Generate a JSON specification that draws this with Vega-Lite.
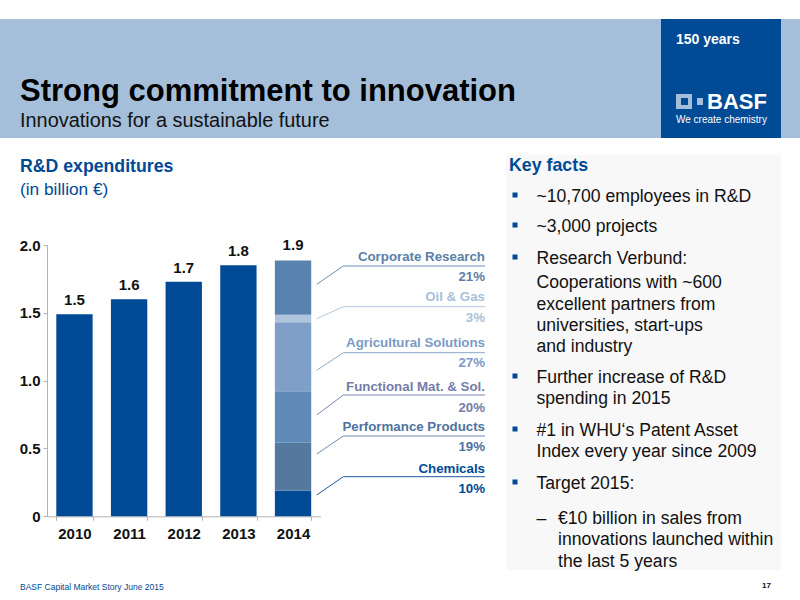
{
  "$schema": "https://vega.github.io/schema/vega-lite/v6.json",
  "width": 800,
  "height": 600,
  "autosize": "none",
  "padding": 0,
  "background": "#ffffff",
  "title": {
    "text": "Strong commitment to innovation",
    "subtitle": "Innovations for a sustainable future",
    "anchor": "start",
    "frame": "group",
    "dx": 20,
    "dy": 135.5,
    "fontSize": 31,
    "fontWeight": "bold",
    "color": "#000000",
    "subtitleFontSize": 19.9,
    "subtitleColor": "#111111",
    "subtitlePadding": 3,
    "font": "Liberation Sans",
    "subtitleFont": "Liberation Sans"
  },
  "datasets": {
    "spend": [
      {"year": "2010", "segment": "Total", "rank": 0, "value": 1.49},
      {"year": "2011", "segment": "Total", "rank": 0, "value": 1.6},
      {"year": "2012", "segment": "Total", "rank": 0, "value": 1.73},
      {"year": "2013", "segment": "Total", "rank": 0, "value": 1.85},
      {"year": "2014", "segment": "Chemicals", "rank": 1, "value": 0.189},
      {"year": "2014", "segment": "Performance Products", "rank": 2, "value": 0.354},
      {"year": "2014", "segment": "Functional Mat. & Sol.", "rank": 3, "value": 0.378},
      {"year": "2014", "segment": "Agricultural Solutions", "rank": 4, "value": 0.509},
      {"year": "2014", "segment": "Oil & Gas", "rank": 5, "value": 0.056},
      {"year": "2014", "segment": "Corporate Research", "rank": 6, "value": 0.399}
    ],
    "totals": [
      {"year": "2010", "total": 1.49, "reported": "1.5"},
      {"year": "2011", "total": 1.6, "reported": "1.6"},
      {"year": "2012", "total": 1.73, "reported": "1.7"},
      {"year": "2013", "total": 1.85, "reported": "1.8"},
      {"year": "2014", "total": 1.9, "reported": "1.9"}
    ],
    "callout_text": [
      {"row": 1, "segment": "Corporate Research", "text": "Corporate Research"},
      {"row": 2, "segment": "Corporate Research", "text": "21%"},
      {"row": 3, "segment": "Oil & Gas", "text": "Oil & Gas"},
      {"row": 4, "segment": "Oil & Gas", "text": "3%"},
      {"row": 5, "segment": "Agricultural Solutions", "text": "Agricultural Solutions"},
      {"row": 6, "segment": "Agricultural Solutions", "text": "27%"},
      {"row": 7, "segment": "Functional Mat. & Sol.", "text": "Functional Mat. & Sol."},
      {"row": 8, "segment": "Functional Mat. & Sol.", "text": "20%"},
      {"row": 9, "segment": "Performance Products", "text": "Performance Products"},
      {"row": 10, "segment": "Performance Products", "text": "19%"},
      {"row": 11, "segment": "Chemicals", "text": "Chemicals"},
      {"row": 12, "segment": "Chemicals", "text": "10%"}
    ],
    "leaders": [
      {"segment": "Corporate Research", "stop": 1, "level": 2},
      {"segment": "Corporate Research", "stop": 2, "level": 1},
      {"segment": "Corporate Research", "stop": 3, "level": 1},
      {"segment": "Oil & Gas", "stop": 1, "level": 4},
      {"segment": "Oil & Gas", "stop": 2, "level": 3},
      {"segment": "Oil & Gas", "stop": 3, "level": 3},
      {"segment": "Agricultural Solutions", "stop": 1, "level": 6},
      {"segment": "Agricultural Solutions", "stop": 2, "level": 5},
      {"segment": "Agricultural Solutions", "stop": 3, "level": 5},
      {"segment": "Functional Mat. & Sol.", "stop": 1, "level": 8},
      {"segment": "Functional Mat. & Sol.", "stop": 2, "level": 7},
      {"segment": "Functional Mat. & Sol.", "stop": 3, "level": 7},
      {"segment": "Performance Products", "stop": 1, "level": 10},
      {"segment": "Performance Products", "stop": 2, "level": 9},
      {"segment": "Performance Products", "stop": 3, "level": 9},
      {"segment": "Chemicals", "stop": 1, "level": 12},
      {"segment": "Chemicals", "stop": 2, "level": 11},
      {"segment": "Chemicals", "stop": 3, "level": 11}
    ],
    "facts": [
      {"line": 1, "col": "bullet", "text": ""},
      {"line": 1, "col": "text", "text": "~10,700 employees in R&D"},
      {"line": 2, "col": "bullet", "text": ""},
      {"line": 2, "col": "text", "text": "~3,000 projects"},
      {"line": 3, "col": "bullet", "text": ""},
      {"line": 3, "col": "text", "text": "Research Verbund:"},
      {"line": 4, "col": "text", "text": "Cooperations with ~600"},
      {"line": 5, "col": "text", "text": "excellent partners from"},
      {"line": 6, "col": "text", "text": "universities, start-ups"},
      {"line": 7, "col": "text", "text": "and industry"},
      {"line": 8, "col": "bullet", "text": ""},
      {"line": 8, "col": "text", "text": "Further increase of R&D"},
      {"line": 9, "col": "text", "text": "spending in 2015"},
      {"line": 10, "col": "bullet", "text": ""},
      {"line": 10, "col": "text", "text": "#1 in WHU‘s Patent Asset"},
      {"line": 11, "col": "text", "text": "Index every year since 2009"},
      {"line": 12, "col": "bullet", "text": ""},
      {"line": 12, "col": "text", "text": "Target 2015:"},
      {"line": 13, "col": "text", "text": "–"},
      {"line": 13, "col": "subtext", "text": "€10 billion in sales from"},
      {"line": 14, "col": "subtext", "text": "innovations launched within"},
      {"line": 15, "col": "subtext", "text": "the last 5 years"}
    ]
  },
  "layer": [
    {
      "data": {"values": [{"part": "header band"}]},
      "mark": {"type": "rect", "x": 0, "x2": 800, "y": 19, "y2": 138, "color": "#a5bfda"}
    },
    {
      "data": {"values": [{"part": "logo box"}]},
      "mark": {"type": "rect", "x": 661, "x2": 781, "y": 19, "y2": 138, "color": "#004a96"}
    },
    {
      "data": {"values": [{"part": "key facts panel"}]},
      "mark": {"type": "rect", "x": 506, "x2": 781, "y": 155, "y2": 570, "color": "#f8f8f8"}
    },
    {
      "data": {"values": [{"part": "logo outer"}]},
      "mark": {"type": "rect", "x": 676, "x2": 692, "y": 94, "y2": 109, "color": "#a5bfda"}
    },
    {
      "data": {"values": [{"part": "logo inner"}]},
      "mark": {"type": "rect", "x": 681, "x2": 688, "y": 98, "y2": 105, "color": "#004a96"}
    },
    {
      "data": {"values": [{"part": "logo dot"}]},
      "mark": {"type": "rect", "x": 697, "x2": 703, "y": 98, "y2": 105, "color": "#a5bfda"}
    },
    {
      "data": {"values": [{"text": "150 years"}]},
      "mark": {"type": "text", "x": 676, "y": 40, "align": "left", "baseline": "middle", "font": "Liberation Sans", "fontSize": 14, "fontWeight": "bold", "color": "#ffffff"},
      "encoding": {"text": {"field": "text"}}
    },
    {
      "data": {"values": [{"text": "BASF"}]},
      "mark": {"type": "text", "x": 707, "y": 101.5, "align": "left", "baseline": "middle", "font": "Liberation Sans", "fontSize": 22, "fontWeight": "bold", "color": "#ffffff"},
      "encoding": {"text": {"field": "text"}}
    },
    {
      "data": {"values": [{"text": "We create chemistry"}]},
      "mark": {"type": "text", "x": 676, "y": 120, "align": "left", "baseline": "middle", "font": "Liberation Sans", "fontSize": 10, "color": "#ffffff"},
      "encoding": {"text": {"field": "text"}}
    },
    {
      "data": {"values": [{"text": "R&D expenditures"}]},
      "mark": {"type": "text", "x": 20, "y": 167, "align": "left", "baseline": "middle", "font": "Liberation Sans", "fontSize": 17.7, "fontWeight": "bold", "color": "#004a96"},
      "encoding": {"text": {"field": "text"}}
    },
    {
      "data": {"values": [{"text": "(in billion €)"}]},
      "mark": {"type": "text", "x": 20, "y": 189.5, "align": "left", "baseline": "middle", "font": "Liberation Sans", "fontSize": 17.3, "color": "#004a96"},
      "encoding": {"text": {"field": "text"}}
    },
    {
      "data": {"values": [{"text": "Key facts"}]},
      "mark": {"type": "text", "x": 509, "y": 166, "align": "left", "baseline": "middle", "font": "Liberation Sans", "fontSize": 17.8, "fontWeight": "bold", "color": "#004a96"},
      "encoding": {"text": {"field": "text"}}
    },
    {
      "data": {"values": [{"text": "BASF Capital Market Story June 2015"}]},
      "mark": {"type": "text", "x": 20, "y": 587, "align": "left", "baseline": "middle", "font": "Liberation Sans", "fontSize": 8.5, "color": "#004a96"},
      "encoding": {"text": {"field": "text"}}
    },
    {
      "data": {"values": [{"text": "17"}]},
      "mark": {"type": "text", "x": 771, "y": 586, "align": "right", "baseline": "middle", "font": "Liberation Sans", "fontSize": 8, "fontWeight": "bold", "color": "#111111"},
      "encoding": {"text": {"field": "text"}}
    },
    {
      "data": {"name": "spend"},
      "mark": {"type": "bar"},
      "encoding": {
        "x": {
          "field": "year",
          "type": "nominal",
          "title": null,
          "scale": {"type": "band", "domain": ["2010", "2011", "2012", "2013", "2014"], "range": [47, 320.5], "paddingInner": 0.335, "paddingOuter": 0.17},
          "axis": {"offset": -83.7, "labelAngle": 0, "labelFont": "Liberation Sans", "labelFontSize": 15, "labelFontWeight": "bold", "labelColor": "#111111", "labelPadding": 6, "tickBand": "extent", "tickSize": 4, "tickColor": "#b3b3b3", "domainColor": "#b3b3b3"}
        },
        "y": {
          "field": "value",
          "type": "quantitative",
          "stack": "zero",
          "title": null,
          "scale": {"domain": [0, 2], "range": [516.3, 245], "nice": false},
          "axis": {"offset": -47, "values": [0, 0.5, 1, 1.5, 2], "labelExpr": "datum.value == 0 ? '0' : format(datum.value, '.1f')", "grid": false, "labelFont": "Liberation Sans", "labelFontSize": 15, "labelFontWeight": "bold", "labelColor": "#111111", "labelPadding": 3, "tickSize": 4, "tickColor": "#b3b3b3", "domainColor": "#b3b3b3"}
        },
        "color": {
          "field": "segment",
          "type": "nominal",
          "legend": null,
          "scale": {
            "domain": ["Total", "Chemicals", "Performance Products", "Functional Mat. & Sol.", "Agricultural Solutions", "Oil & Gas", "Corporate Research"],
            "range": ["#004a96", "#004a96", "#55789f", "#5f8ab8", "#7f9fc8", "#aec3dc", "#5a82ae"]
          }
        },
        "order": {"field": "rank", "type": "quantitative"}
      }
    },
    {
      "data": {"name": "totals"},
      "mark": {"type": "text", "baseline": "bottom", "dy": -6, "font": "Liberation Sans", "fontSize": 15, "fontWeight": "bold", "color": "#111111"},
      "encoding": {
        "x": {
          "field": "year",
          "type": "nominal",
          "axis": null,
          "scale": {"type": "band", "domain": ["2010", "2011", "2012", "2013", "2014"], "range": [47, 320.5], "paddingInner": 0.335, "paddingOuter": 0.17}
        },
        "y": {
          "field": "total",
          "type": "quantitative",
          "axis": null,
          "scale": {"domain": [0, 2], "range": [516.3, 245], "nice": false}
        },
        "text": {"field": "reported"}
      }
    },
    {
      "data": {"name": "leaders"},
      "mark": {"type": "line", "strokeWidth": 1, "interpolate": "linear"},
      "encoding": {
        "x": {
          "field": "stop",
          "type": "quantitative",
          "axis": null,
          "scale": {"domain": [1, 2, 3], "range": [316.7, 343.3, 485], "nice": false, "zero": false}
        },
        "y": {
          "field": "level",
          "type": "quantitative",
          "axis": null,
          "scale": {
            "domain": [1, 2, 3, 4, 5, 6, 7, 8, 9, 10, 11, 12],
            "range": [266, 284.3, 306.7, 318.7, 352.7, 370.3, 395, 415, 436, 454, 476.7, 495],
            "nice": false,
            "zero": false
          }
        },
        "color": {
          "field": "segment",
          "type": "nominal",
          "legend": null,
          "scale": {
            "domain": ["Chemicals", "Performance Products", "Functional Mat. & Sol.", "Agricultural Solutions", "Oil & Gas", "Corporate Research"],
            "range": ["#1d5a9f", "#6f8cae", "#7b83ae", "#8aa7cd", "#b3c8e0", "#6d8fb6"]
          }
        }
      }
    },
    {
      "data": {"name": "callout_text"},
      "mark": {"type": "text", "x": 485, "align": "right", "baseline": "middle", "font": "Liberation Sans", "fontSize": 13.3, "fontWeight": "bold"},
      "encoding": {
        "y": {
          "field": "row",
          "type": "quantitative",
          "axis": null,
          "scale": {
            "domain": [1, 2, 3, 4, 5, 6, 7, 8, 9, 10, 11, 12],
            "range": [257.3, 277, 297, 318, 343, 363, 387, 408, 427, 447, 469, 489],
            "nice": false,
            "zero": false
          }
        },
        "text": {"field": "text"},
        "color": {
          "field": "segment",
          "type": "nominal",
          "legend": null,
          "scale": {
            "domain": ["Chemicals", "Performance Products", "Functional Mat. & Sol.", "Agricultural Solutions", "Oil & Gas", "Corporate Research"],
            "range": ["#004a96", "#4f73a0", "#737da8", "#7b9bc6", "#a8bfda", "#5b7fa8"]
          }
        }
      }
    },
    {
      "data": {"name": "facts"},
      "transform": [{"filter": "datum.col == 'bullet'"}],
      "mark": {"type": "point", "shape": "square", "filled": true, "size": 25, "opacity": 1, "color": "#004a96"},
      "encoding": {
        "x": {
          "field": "col",
          "type": "nominal",
          "axis": null,
          "scale": {"type": "point", "domain": ["bullet", "text", "subtext"], "range": [515, 558], "padding": 0}
        },
        "y": {
          "field": "line",
          "type": "quantitative",
          "axis": null,
          "scale": {
            "domain": [1, 2, 3, 4, 5, 6, 7, 8, 9, 10, 11, 12, 13, 14, 15],
            "range": [195, 225, 257, 281, 303, 324, 345, 376, 397, 429, 450, 482, 517, 538, 560],
            "nice": false,
            "zero": false
          }
        }
      }
    },
    {
      "data": {"name": "facts"},
      "transform": [{"filter": "datum.col != 'bullet'"}],
      "mark": {"type": "text", "align": "left", "baseline": "middle", "font": "Liberation Sans", "fontSize": 17.6, "color": "#111111"},
      "encoding": {
        "x": {
          "field": "col",
          "type": "nominal",
          "axis": null,
          "scale": {"type": "point", "domain": ["bullet", "text", "subtext"], "range": [515, 558], "padding": 0}
        },
        "y": {
          "field": "line",
          "type": "quantitative",
          "axis": null,
          "scale": {
            "domain": [1, 2, 3, 4, 5, 6, 7, 8, 9, 10, 11, 12, 13, 14, 15],
            "range": [197, 227, 259, 283, 305, 326, 347, 378, 399, 431, 452, 484, 519, 540, 562],
            "nice": false,
            "zero": false
          }
        },
        "text": {"field": "text"}
      }
    }
  ],
  "resolve": {
    "scale": {"x": "independent", "y": "independent", "color": "independent"},
    "axis": {"x": "independent", "y": "independent"}
  },
  "config": {
    "view": {"stroke": null},
    "font": "Liberation Sans"
  }
}
